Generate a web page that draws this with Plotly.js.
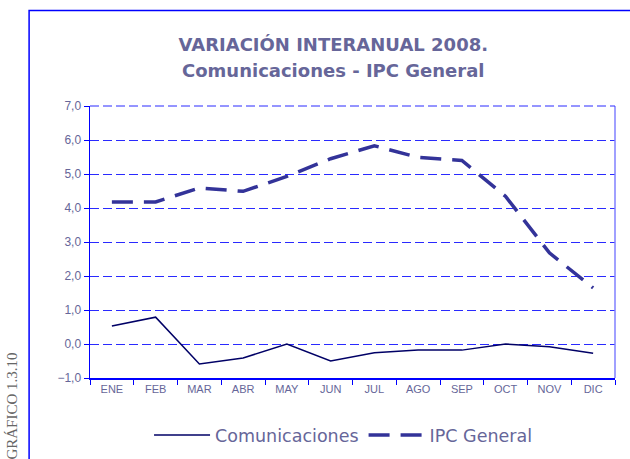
<!DOCTYPE html>
<html>
<head>
<meta charset="utf-8">
<script src="https://cdn.plot.ly/plotly-3.0.1.min.js"></script>
<style>html,body{margin:0;padding:0;background:#fff;}#chart{width:630px;height:459px;}</style>
</head>
<body>
<div id="chart"></div>
<script>
var months = ["ENE","FEB","MAR","ABR","MAY","JUN","JUL","AGO","SEP","OCT","NOV","DIC"];
var comunicaciones = [0.53, 0.79, -0.59, -0.41, 0.0, -0.5, -0.26, -0.18, -0.18, 0.0, -0.08, -0.27];
var ipcGeneral = [4.18, 4.18, 4.59, 4.49, 4.93, 5.45, 5.83, 5.49, 5.4, 4.34, 2.68, 1.65];
var yTicks = [-1, 0, 1, 2, 3, 4, 5, 6, 7];

var textColor = "#666699";
var traces = [
  {x: months, y: comunicaciones, type: "scatter", mode: "lines", name: "Comunicaciones",
   line: {color: "#000066", width: 1.5}},
  {x: months, y: ipcGeneral, type: "scatter", mode: "lines", name: "IPC General",
   line: {color: "#333399", width: 3.5, dash: "21px,11px"}}
];

var layout = {
  width: 630, height: 459,
  margin: {l: 90, r: 15, t: 106, b: 81, autoexpand: false},
  paper_bgcolor: "#fff", plot_bgcolor: "#fff",
  separators: ",.",
  showlegend: true,
  title: {
    text: "<b>VARIACIÓN INTERANUAL 2008.</b>",
    font: {family: "DejaVu Sans", size: 18, color: textColor},
    x: 0.529, xanchor: "center", y: 0.902, yanchor: "middle"
  },
  xaxis: {
    type: "category", range: [-0.5, 11.5], automargin: false,
    showgrid: false, showline: true, linecolor: "#0000ff", linewidth: 1.5,
    ticks: "outside", tickson: "boundaries", ticklen: 5, tickcolor: "#0000ff", tickwidth: 1,
    tickfont: {family: "Liberation Sans", size: 11, color: textColor},
    fixedrange: true
  },
  yaxis: {
    range: [-1, 7], tickvals: yTicks, tickformat: ".1f", automargin: false,
    showgrid: true, gridcolor: "#2a2aff", gridwidth: 1, griddash: "9px,4px",
    zeroline: false,
    showline: true, linecolor: "#0000ff", linewidth: 1.5,
    ticks: "outside", ticklen: 5, tickcolor: "#0000ff", tickwidth: 1,
    tickfont: {family: "Liberation Sans", size: 12, color: textColor},
    fixedrange: true
  },
  legend: {
    orientation: "h", x: 0.482, xanchor: "center", y: -0.21, yanchor: "middle",
    font: {family: "DejaVu Sans", size: 17.5, color: textColor},
    itemwidth: 56, bgcolor: "rgba(0,0,0,0)"
  },
  shapes: [
    {type: "rect", xref: "paper", yref: "paper", x0: -0.116, x1: 1.2, y0: -0.4, y1: 1.351,
     line: {color: "#0000ff", width: 1.5}, fillcolor: "rgba(0,0,0,0)"},
    {type: "line", xref: "paper", yref: "paper", x0: 1, x1: 1, y0: 0, y1: 1,
     line: {color: "#8080ff", width: 1.5}},
    {type: "line", xref: "paper", yref: "paper", x0: 0, x1: 1, y0: 1, y1: 1,
     line: {color: "#2a2aff", width: 1, dash: "9px,4px"}}
  ],
  annotations: [
    {text: "<b>Comunicaciones - IPC General</b>", xref: "paper", yref: "paper",
     x: 0.463, xanchor: "center", y: 1.132, yanchor: "middle", showarrow: false,
     font: {family: "DejaVu Sans", size: 18, color: textColor}},
    {text: "GRÁFICO 1.3.10", xref: "paper", yref: "paper", x: -0.148, xanchor: "center",
     y: 0.1, yanchor: "top", textangle: -90, showarrow: false,
     font: {family: "Liberation Serif", size: 15, color: "#666666"}}
  ]
};

Plotly.newPlot("chart", traces, layout, {displayModeBar: false, staticPlot: true});
</script>
</body>
</html>
